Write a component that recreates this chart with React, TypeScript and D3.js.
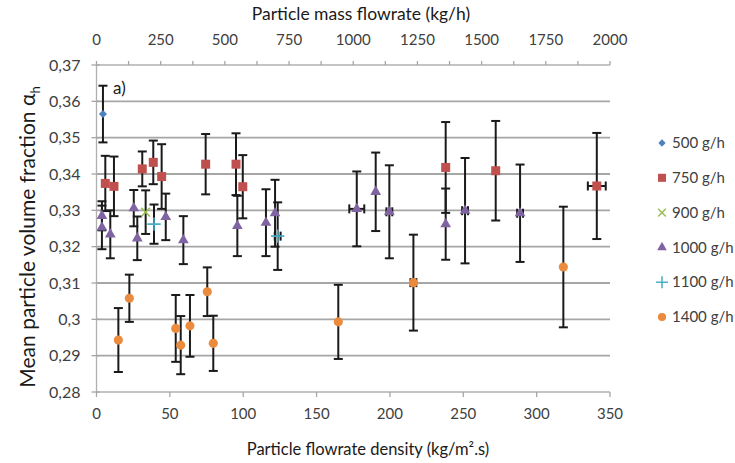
import React from 'react';
import * as d3 from 'd3';

// particle flowrate density (kg/m².s), mean volume fraction, error bars
const x500 = [4.4];
const y500 = [0.3565];
const ey500 = [0.0078];
const ex500 = [0];

const x750 = [6.0, 11.9, 31.2, 38.7, 44.4, 74.4, 95.1, 99.7, 238.0, 272.1, 341.0];
const y750 = [0.3374, 0.3366, 0.3414, 0.3432, 0.3393, 0.3427, 0.3427, 0.3365, 0.3418, 0.3409, 0.3367];
const ey750 = [0.0076, 0.0082, 0.0048, 0.006, 0.0089, 0.0083, 0.0085, 0.0087, 0.0125, 0.0137, 0.0146];
const ex750 = [0, 0, 0, 0, 0, 0, 0, 0, 0, 0, 6.1];

const x900 = [33.5];
const y900 = [0.3295];
const ey900 = [0.006];
const ex900 = [0];

const x1000 = [3.7, 3.7, 9.4, 25.4, 27.8, 47.2, 59.2, 96.0, 115.5, 121.7, 177.4, 190.3, 199.6, 238.0, 251.2, 288.7];
const y1000 = [0.3285, 0.3253, 0.3234, 0.3306, 0.3223, 0.3282, 0.3218, 0.3257, 0.3266, 0.3292, 0.3304, 0.3351, 0.3296, 0.3262, 0.3299, 0.3292];
const ey1000 = [0.004, 0.006, 0.0066, 0.005, 0.006, 0.0064, 0.0066, 0.0083, 0.0092, 0.0092, 0.0103, 0.0108, 0.0128, 0.0098, 0.0145, 0.0134];
const ex1000 = [0, 0, 0, 0, 0, 0, 0, 0, 0, 0, 5.1, 0, 2, 0, 2, 2];

const x1100 = [39.2, 123.5];
const y1100 = [0.3262, 0.3229];
const ey1100 = [0.0054, 0.0093];
const ex1100 = [0, 2];

const x1400 = [14.9, 22.4, 54.0, 57.4, 63.7, 75.5, 79.6, 164.8, 216.0, 318.2];
const y1400 = [0.2943, 0.3058, 0.2975, 0.2929, 0.2982, 0.3076, 0.2934, 0.2993, 0.3101, 0.3144];
const ey1400 = [0.0088, 0.0065, 0.0092, 0.008, 0.0085, 0.0067, 0.0076, 0.0102, 0.0132, 0.0166];
const ex1400 = [0, 0, 0, 0, 0, 0, 0, 0, 2, 0];

const seriesNames = ['500 g/h', '750 g/h', '900 g/h', '1000 g/h', '1100 g/h', '1400 g/h'];
const yTicks = [0.28, 0.29, 0.3, 0.31, 0.32, 0.33, 0.34, 0.35, 0.36, 0.37];
const xTicks = [0, 50, 100, 150, 200, 250, 300, 350];
const xTopTicks = [0, 250, 500, 750, 1000, 1250, 1500, 1750, 2000];

const series = [
  { name: seriesNames[0], x: x500, y: y500, ey: ey500, ex: ex500, color: '#4F81BD', sym: d3.symbolDiamond2, size: 42, stroke: false },
  { name: seriesNames[1], x: x750, y: y750, ey: ey750, ex: ex750, color: '#C0504D', sym: d3.symbolSquare, size: 81, stroke: false },
  { name: seriesNames[2], x: x900, y: y900, ey: ey900, ex: ex900, color: '#9BBB59', sym: d3.symbolTimes, size: 50, stroke: true },
  { name: seriesNames[3], x: x1000, y: y1000, ey: ey1000, ex: ex1000, color: '#8064A2', sym: d3.symbolTriangle, size: 50, stroke: false },
  { name: seriesNames[4], x: x1100, y: y1100, ey: ey1100, ex: ex1100, color: '#4BACC6', sym: d3.symbolPlus, size: 60, stroke: true },
  { name: seriesNames[5], x: x1400, y: y1400, ey: ey1400, ex: ex1400, color: '#EB8B3E', sym: d3.symbolCircle, size: 66, stroke: false },
];

const W = 735;
const H = 463;
const font = 'Lato, "Open Sans", sans-serif';
const textColor = '#404040';

export default function App() {
  const x = d3.scaleLinear().domain([0, 350]).range([96.5, 610]);
  const xTop = d3.scaleLinear().domain([0, 2000]).range([96.5, 610]);
  const y = d3.scaleLinear().domain([0.28, 0.37]).range([392, 65]);
  const fmt = (v: number) => d3.format('.2~f')(v).replace('.', ',');
  const cap = 4.5;

  const marker = (s: any) => d3.symbol().type(s.sym).size(s.size)() as string;

  return (
    <svg width={W} height={H} style={{ position: 'absolute', left: 0, top: 0, background: '#fff' }}>
      {/* gridlines */}
      {yTicks.slice(1, -1).map(t => (
        <line key={'g' + t} x1={x(0)} x2={x(350)} y1={y(t)} y2={y(t)} stroke="#a6a6a6" strokeWidth={1.8} />
      ))}
      {/* axes */}
      <line x1={x(0)} x2={x(0)} y1={y(0.37)} y2={y(0.28)} stroke="#b0b0b0" strokeWidth={1.3} />
      <line x1={x(0)} x2={x(350)} y1={y(0.28)} y2={y(0.28)} stroke="#b0b0b0" strokeWidth={1.3} />
      <line x1={x(0)} x2={x(350)} y1={y(0.37)} y2={y(0.37)} stroke="#b0b0b0" strokeWidth={1.3} />
      {yTicks.map(t => (
        <g key={'yt' + t}>
          <line x1={x(0) - 5} x2={x(0) + 3} y1={y(t)} y2={y(t)} stroke="#a6a6a6" strokeWidth={1.3} />
          <text x={x(0) - 16} y={y(t)} dy="0.35em" textAnchor="end" fontSize={16} fill={textColor}>{fmt(t)}</text>
        </g>
      ))}
      {xTicks.map(t => (
        <g key={'xt' + t}>
          <line x1={x(t)} x2={x(t)} y1={y(0.28)} y2={y(0.28) + 5} stroke="#a6a6a6" strokeWidth={1.3} />
          <text x={x(t)} y={419} textAnchor="middle" fontSize={15} fill={textColor}>{t}</text>
        </g>
      ))}
      {d3.range(0, 2001, 125).map(t => (
        <line key={'tt' + t} x1={xTop(t)} x2={xTop(t)} y1={y(0.37)} y2={y(0.37) - 4} stroke="#a6a6a6" strokeWidth={1.3} />
      ))}
      {xTopTicks.map(t => (
        <text key={'tl' + t} x={xTop(t)} y={45} textAnchor="middle" fontSize={15} fill={textColor}>{t}</text>
      ))}

      {/* error bars */}
      {series.map(s => s.x.map((xv, i) => {
        const cx = x(xv), cy = y(s.y[i]);
        const y0 = y(s.y[i] + s.ey[i]), y1 = y(s.y[i] - s.ey[i]);
        const ex = s.ex[i];
        return (
          <g key={s.name + 'e' + i} stroke="#1a1a1a" strokeWidth={2}>
            <line x1={cx} x2={cx} y1={y0} y2={y1} />
            <line x1={cx - cap} x2={cx + cap} y1={y0} y2={y0} />
            <line x1={cx - cap} x2={cx + cap} y1={y1} y2={y1} />
            {ex > 0 && (
              <>
                <line x1={x(xv - ex)} x2={x(xv + ex)} y1={cy} y2={cy} />
                <line x1={x(xv - ex)} x2={x(xv - ex)} y1={cy - cap} y2={cy + cap} />
                <line x1={x(xv + ex)} x2={x(xv + ex)} y1={cy - cap} y2={cy + cap} />
              </>
            )}
          </g>
        );
      }))}

      {/* markers */}
      {series.map(s => s.x.map((xv, i) => (
        <path key={s.name + 'm' + i} d={marker(s)}
          transform={`translate(${x(xv)},${y(s.y[i])})`}
          fill={s.stroke ? 'none' : s.color}
          stroke={s.stroke ? s.color : 'none'} strokeWidth={1.6} />
      )))}

      <text x={113} y={94} fontSize={17} fill="#1a1a1a" fontFamily={font}>a)</text>

      {/* legend */}
      {series.map((s, i) => (
        <g key={'lg' + s.name} transform={`translate(662,${143 + i * 34.8})`}>
          <path d={d3.symbol().type(s.sym).size(s.size * 0.8)() as string}
            fill={s.stroke ? 'none' : s.color} stroke={s.stroke ? s.color : 'none'} strokeWidth={1.5} />
          <text x={10} dy="0.35em" fontSize={15} fill={textColor} fontFamily={font}>{s.name}</text>
        </g>
      ))}

      {/* axis titles */}
      <text x={361} y={20} textAnchor="middle" fontSize={17.5} fill="#1a1a1a" fontFamily={font}>Particle mass flowrate (kg/h)</text>
      <text x={368} y={455} textAnchor="middle" fontSize={16.5} fill="#1a1a1a" fontFamily={font}>Particle flowrate density (kg/m².s)</text>
      <text transform="translate(35,237) rotate(-90)" textAnchor="middle" fontSize={21} fill="#1a1a1a" fontFamily={font}>
        Mean particle volume fraction α<tspan fontSize={13} dy={5}>h</tspan>
      </text>
      <style>{`text { font-family: ${font}; }`}</style>
    </svg>
  );
}
